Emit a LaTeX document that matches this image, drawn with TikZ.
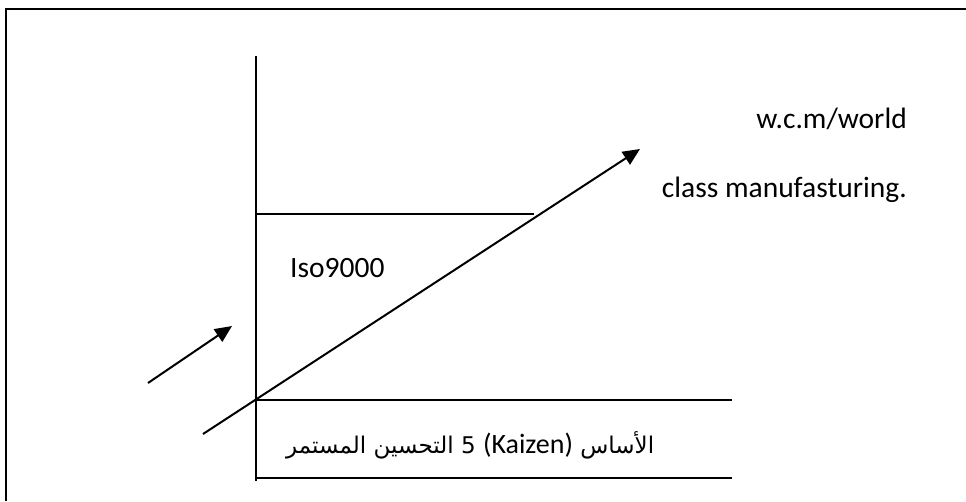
\documentclass[tikz,border=0pt]{standalone}
\usepackage{fontspec}
\setmainfont{Carlito}
\newfontfamily\arabicfont[Script=Arabic]{DejaVu Sans}
\TeXXeTstate=1
\usetikzlibrary{arrows.meta}

\begin{document}
\begin{tikzpicture}[
  x=1pt, y=-1pt,
  frm/.style={line width=2.4pt},
  ln/.style={line width=2pt},
  arr/.style={ln, -{Triangle[length=17pt,width=15pt]}},
  lbl/.style={font=\fontsize{29.5}{35}\selectfont, inner sep=0pt},
]
  \useasboundingbox (0,0) rectangle (966,501);

  % frame (only top and left edges show)
  \draw[frm] (6,501) -- (6,9) -- (966,9);

  % axis and levels
  \coordinate (axtop) at (256,56);
  \coordinate (axbot) at (256,481);
  \coordinate (o) at (256,400);
  \coordinate (oR) at (732,400);
  \coordinate (mid) at (256,214);
  \coordinate (midR) at (534,214);
  \coordinate (lowL) at (256,478);
  \coordinate (lowR) at (732,478);
  \draw[ln] (axtop) -- (axbot);
  \draw[ln] (mid) -- (midR);
  \draw[ln] (o) -- (oR);
  \draw[ln] (lowL) -- (lowR);

  % arrows
  \coordinate (tail1) at (203,434);
  \coordinate (head1) at (640,149);
  \coordinate (tail2) at (148,383);
  \coordinate (head2) at (232,326);
  \draw[arr] (tail1) -- (head1);
  \draw[arr] (tail2) -- (head2);

  % labels
  \node[lbl, anchor=base east] (wcm) at (907,128) {w.c.m/world};
  \node[lbl, anchor=base east] (cls) at (907,197) {class manufasturing.};
  \node[lbl, anchor=base west] (iso) at (290,277) {Iso9000};
  \node[lbl, anchor=base west] (kaiz) at (286,453)
    {\fontsize{23}{30}\arabicfont\beginR الأساس \beginL{\fontsize{28}{34}\rmfamily(Kaizen)}\endL{} 5 التحسين المستمر\endR};
\end{tikzpicture}
\end{document}
